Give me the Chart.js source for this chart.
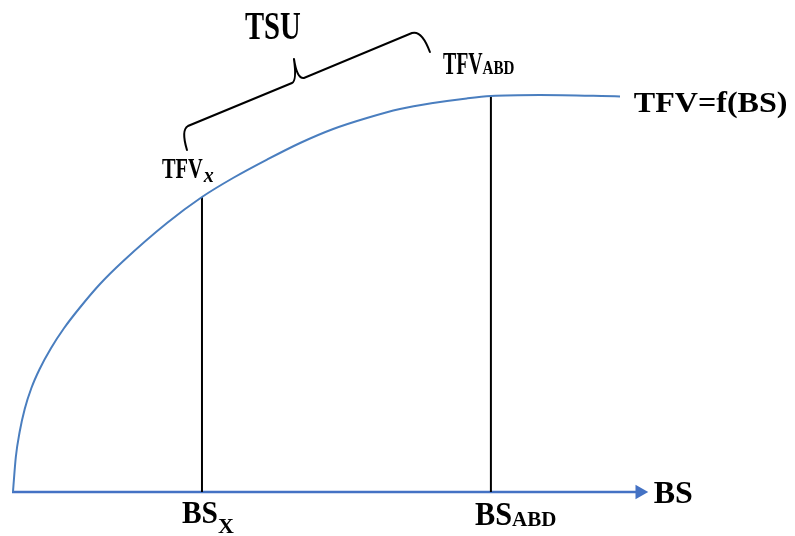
<!DOCTYPE html>
<html>
<head>
<meta charset="utf-8">
<script src="https://cdn.jsdelivr.net/npm/chart.js@4"></script>
<style>
html,body{margin:0;padding:0;background:#fff;}
#wrap{width:795px;height:536px;position:relative;}
</style>
</head>
<body>
<div id="wrap"><canvas id="c"></canvas></div>
<script>
// Data (BS on x, TFV on y, arbitrary units 0..100)
const bsValues  = [0.15, 0.6, 1.2, 2.0, 3.05, 4.35, 6.15, 8.2, 10.75, 13.84, 17.5, 24.37, 29.87, 34.75, 40.1, 45.3, 50.5, 55.8, 61, 66.2, 71.5, 75.3, 83, 95.6];
const tfvValues = [0, 8.75, 15, 20.75, 26, 30.75, 36, 41, 46.25, 52, 57.75, 67.25, 73.75, 78.5, 83.1, 87.25, 90.75, 93.5, 95.75, 97.25, 98.4, 99, 99.25, 98.9];
const markBS  = [29.87, 75.3];   // BS_X, BS_ABD
const markTFV = [73.75, 99];     // TFV_X, TFV_ABD
const axisEnd = 98.7;
const labels = {tsu:'TSU', fn:'TFV=f(BS)', axis:'BS'};

const curve = bsValues.map((x,i)=>({x, y: tfvValues[i]}));

function txt(ctx, s, x, y, size, sx, style){
  ctx.save();
  ctx.font = (style||'bold') + ' ' + size + 'px "Liberation Serif", "Times New Roman", serif';
  const w = ctx.measureText(s).width * sx;
  ctx.translate(x, y);
  ctx.scale(sx, 1);
  ctx.fillStyle = '#000';
  ctx.textBaseline = 'alphabetic';
  ctx.fillText(s, 0, 0);
  ctx.restore();
  return x + w;
}

const annot = {
  id: 'annot',
  afterDatasetsDraw(chart){
    const ctx = chart.ctx;
    const xs = chart.scales.x, ys = chart.scales.y;
    const ax = xs.getPixelForValue(markBS[0]), ay = ys.getPixelForValue(markTFV[0]);
    const bx = xs.getPixelForValue(markBS[1]), by = ys.getPixelForValue(markTFV[1]);
    const base = ys.getPixelForValue(0);
    const endX = xs.getPixelForValue(axisEnd);

    // brace
    ctx.save();
    ctx.strokeStyle = '#000';
    ctx.lineWidth = 2;
    ctx.lineCap = 'round';
    ctx.beginPath();
    ctx.moveTo(ax-15, ay-47);
    ctx.quadraticCurveTo(ax-21, ay-67, ax-14, ay-71);
    ctx.lineTo(ax+90, ay-114);
    ctx.quadraticCurveTo(ax+95, ay-116, ax+92, ay-138);
    ctx.moveTo(ax+92, ay-138);
    ctx.quadraticCurveTo(ax+95, ay-118, ax+102, ay-119);
    ctx.lineTo(bx-79, by-63);
    ctx.quadraticCurveTo(bx-69, by-66, bx-61, by-44);
    ctx.stroke();
    ctx.restore();

    // texts
    txt(ctx, labels.tsu, ax+43, 39, 41, 0.7);
    let e = txt(ctx, 'TFV', bx-48, by-22, 31, 0.64);
    txt(ctx, 'ABD', e, by-22, 18, 0.84);
    txt(ctx, labels.fn, endX-6, by+16, 30, 1.07);
    e = txt(ctx, 'TFV', ax-40, ay-19, 30, 0.68);
    txt(ctx, 'x', e+1, ay-15, 20, 1.0, 'italic bold');
    e = txt(ctx, 'BS', ax-20, base+31, 32, 0.92);
    txt(ctx, 'X', e, base+41, 20, 1.1);
    e = txt(ctx, 'BS', bx-16, base+33, 33, 0.92);
    txt(ctx, 'ABD', e, base+34, 20, 1.05);
    txt(ctx, labels.axis, endX+14, base+11, 32, 1.0);
  }
};

new Chart(document.getElementById('c'), {
  type: 'line',
  data: {
    datasets: [
      { data: curve, borderColor: '#4a7ebf', borderWidth: 2, pointRadius: 0,
        cubicInterpolationMode: 'monotone', fill: false, clip: false },
      { data: [{x: markBS[0], y: 0}, {x: markBS[0], y: markTFV[0]}], borderColor: '#000',
        borderWidth: 2, pointRadius: 0, clip: false },
      { data: [{x: markBS[1], y: 0}, {x: markBS[1], y: markTFV[1]}], borderColor: '#000',
        borderWidth: 2, pointRadius: 0, clip: false },
      { data: [{x: 0, y: 0}, {x: axisEnd, y: 0}], borderColor: '#4472c4', borderWidth: 2.5,
        backgroundColor: '#4472c4',
        pointStyle: 'triangle', pointRotation: 90,
        pointRadius: ctx => ctx.dataIndex === 1 ? 8.5 : 0,
        pointBorderWidth: 0, clip: false }
    ]
  },
  options: {
    responsive: true,
    maintainAspectRatio: false,
    animation: false,
    layout: { padding: { left: 12, right: 147, top: 92, bottom: 44 } },
    plugins: { legend: { display: false }, tooltip: { enabled: false } },
    scales: {
      x: { type: 'linear', min: 0, max: 100, display: false },
      y: { type: 'linear', min: 0, max: 100, display: false }
    }
  },
  plugins: [annot]
});
</script>
</body>
</html>
